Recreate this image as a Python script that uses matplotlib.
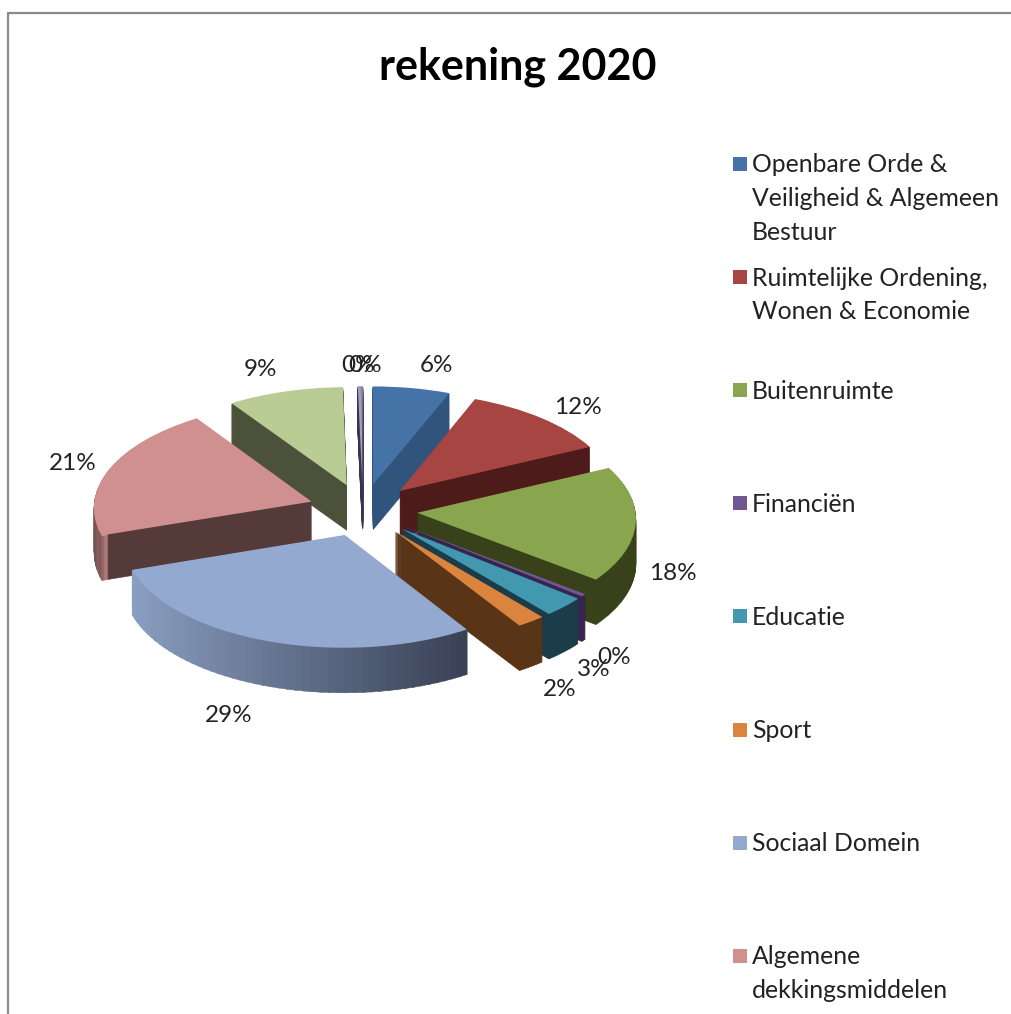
import numpy as np
import matplotlib
matplotlib.use("Agg")
import matplotlib.pyplot as plt
from matplotlib.patches import Wedge, Rectangle
from matplotlib.transforms import Transform
from matplotlib.colors import to_rgb

TITLE = "rekening 2020"
categories = ["Openbare Orde &\nVeiligheid & Algemeen\nBestuur",
              "Ruimtelijke Ordening,\nWonen & Economie",
              "Buitenruimte", "Financiën", "Educatie", "Sport",
              "Sociaal Domein", "Algemene\ndekkingsmiddelen"]
values = [6.0, 11.7, 17.6, 0.4, 3.0, 2.0, 28.6, 20.6, 9.0, 0.3, 0.05]
top_colors = ["#4572a7", "#a74542", "#89a54e", "#71588f", "#4198af", "#db843d",
              "#93a9cf", "#d09090", "#b9cc94", "#a99bbd", "#92a8cd"]
side_colors = ["#30547c", "#4d1c1a", "#384119", "#352550", "#1b3c49", "#5a3417",
               "#5a6a88", "#553a3a", "#4c5239", "#3a3050", "#3a4256"]
explode = [0.25] * len(values)
label_xy = [(437, 366), (578, 408), (673, 573), (614, 657), (594, 670), (560, 690),
            (229, 715), (73, 464), (261, 370), (358, 365), (365, 365)]

CX, CY, RX, RY, K, DEPTH = 363, 510, 218, 105, 0.047, 45


class Persp(Transform):
    input_dims = output_dims = 2
    is_separable = False
    has_inverse = False

    def __init__(self, drop=0.0):
        super().__init__()
        self.drop = drop

    def transform_non_affine(self, xy):
        xy = np.asarray(xy, float)
        s = 1.0 / (1.0 + K * xy[:, 1])
        return np.column_stack([CX + RX * xy[:, 0] * s,
                                CY - RY * xy[:, 1] * s + self.drop])


plt.rcParams["font.family"] = ["Lato", "DejaVu Sans"]
fig = plt.figure(figsize=(10.12, 10.14), dpi=100, facecolor="white")
ax = fig.add_axes([0, 0, 1, 1])

wedges, _ = ax.pie(values, colors=top_colors, explode=explode, startangle=90,
                   counterclock=False, radius=1.0, wedgeprops=dict(linewidth=0))
ax.set_aspect("auto")
ax.set_xlim(0, 1012)
ax.set_ylim(1014, 0)
ax.axis("off")

# tops
for w in wedges:
    w.set_transform(Persp(0) + ax.transData)
    w.set_zorder(500)

# extruded sides, back slices first
order = sorted(range(len(wedges)), key=lambda i: -wedges[i].center[1])
base = 10
for rank, i in enumerate(order):
    w = wedges[i]
    z = base + rank
    for d in np.arange(DEPTH, 0, -1.0):
        tr = Persp(d) + ax.transData
        if i == 6:
            thetas = np.linspace(w.theta1, w.theta2, 50)
            for a, b in zip(thetas[:-1], thetas[1:]):
                m = np.radians((a + b) / 2)
                t = np.clip((np.cos(m) + 0.95) / 1.5, 0, 1)
                c = (1 - t) * np.array(to_rgb("#8a9fc2")) + t * np.array(to_rgb("#384053"))
                ax.add_patch(Wedge(w.center, w.r, a - 0.2, b + 0.2, color=c, lw=0.4,
                                   transform=tr, zorder=z))
        else:
            ax.add_patch(Wedge(w.center, w.r, w.theta1, w.theta2, color=side_colors[i], lw=0.4,
                               transform=tr, zorder=z))
            if i == 7:
                ax.add_patch(Wedge(w.center, w.r, w.theta2 - 40, w.theta2 + 0.01, width=0.03,
                                   color="#c99090", lw=0, transform=tr, zorder=z))

# percentage labels
for v, (x, y) in zip(values, label_xy):
    ax.text(x, y, f"{v:.0f}%", fontsize=17.5, color="#222222", ha="center", va="center", zorder=900)

# legend
for i, (name, col) in enumerate(zip(categories, top_colors)):
    y = 164 + i * 113.1
    ax.add_patch(Rectangle((733, y - 7), 14, 14, facecolor=col, edgecolor="none", zorder=900))
    ax.text(752, y - 10.5, name, fontsize=17.8, color="#222222", ha="left", va="top",
            linespacing=1.56, zorder=900)

# title and frame
ax.text(518, 67, TITLE, fontsize=31, fontweight="bold", color="black", ha="center", va="center", zorder=900)
ax.plot([8, 8, 1012], [1014, 13, 13], color="#8a8a8a", lw=1.6, zorder=900, clip_on=False)

fig.savefig("out.png", dpi=100, facecolor="white")
